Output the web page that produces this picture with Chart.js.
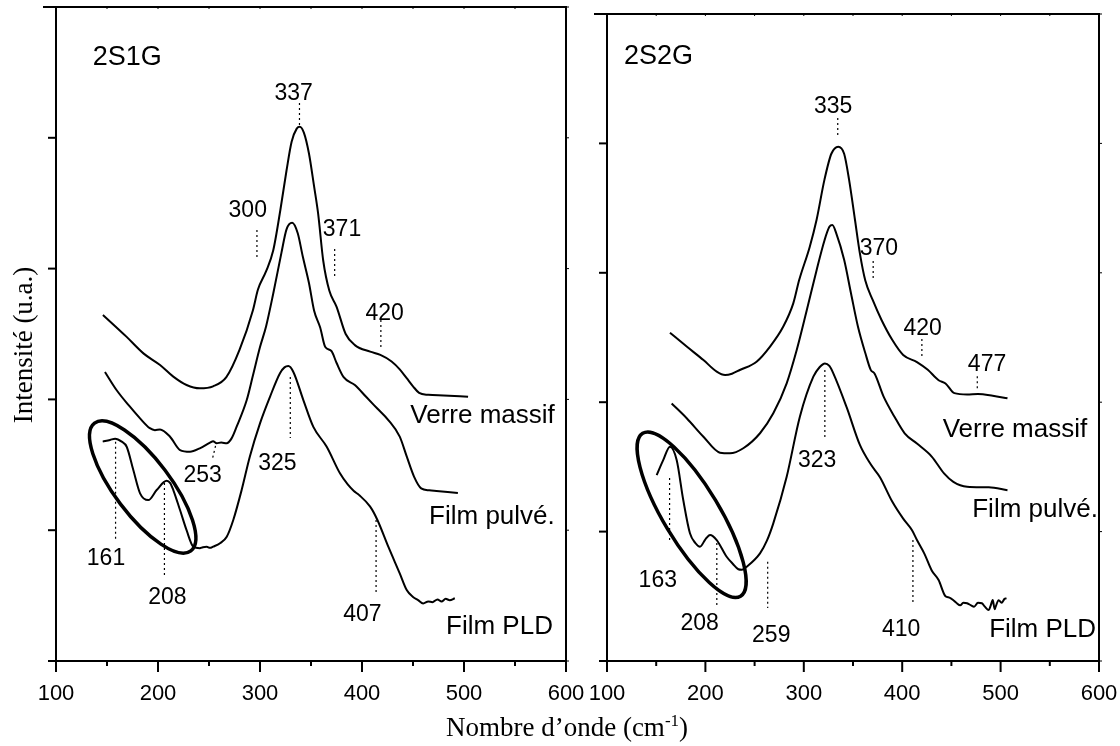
<!DOCTYPE html>
<html><head><meta charset="utf-8">
<script src="https://cdn.jsdelivr.net/npm/chart.js@4.4.1/dist/chart.umd.min.js"></script>
<style>
html,body{margin:0;padding:0;background:#fff;}
#wrap{position:relative;width:1120px;height:746px;overflow:hidden;background:#fff;}
#c1{position:absolute;left:0;top:0;}
#c2{position:absolute;left:560px;top:0;}
.xt{position:absolute;left:367px;width:400px;top:714px;text-align:center;font-family:"Liberation Serif",serif;font-size:27px;line-height:27px;white-space:nowrap;color:#000;}
.xt sup{font-size:17px;line-height:0;vertical-align:0.6em;}
.yt{position:absolute;left:-127px;top:330px;width:300px;height:30px;line-height:30px;text-align:center;font-family:"Liberation Serif",serif;font-size:27px;color:#000;transform:rotate(-90deg);transform-origin:50% 50%;white-space:nowrap;}
</style></head>
<body>
<div id="wrap">
<canvas id="c1" width="600" height="746"></canvas>
<canvas id="c2" width="560" height="746"></canvas>
<div class="yt">Intensité (u.a.)</div>
<div class="xt">Nombre d’onde (cm<sup>-1</sup>)</div>
</div>
<script>
// ---------- Data: panel 2S1G ----------
const L_VERRE_X = [146,158,169,186,202,215,228,241,254,267,280,293,298,306,313,320,326,331,336,339,343,348,353,357,362,368,375,384,393,408,418,429,437,444,450,456,465,480,504];
const L_VERRE_Y = [2.645,2.56,2.48,2.35,2.263,2.174,2.11,2.085,2.10,2.17,2.38,2.68,2.84,2.98,3.14,3.45,3.75,3.97,4.07,4.085,4.04,3.88,3.63,3.42,3.06,2.83,2.71,2.50,2.415,2.365,2.34,2.29,2.23,2.16,2.10,2.05,2.035,2.03,2.02];
const L_PULVE_X = [148,159.5,172.5,182.4,192,197,202,211.8,221.6,231.4,241,251,254,257.5,262,267.4,272,277,287,293,300,306,313,321,326,331.5,337,342,348,353,359,364,370,375,382,393,404,415,426,437,444,451,458,466,473,494];
const L_PULVE_Y = [2.21,2.07,1.944,1.855,1.78,1.765,1.77,1.715,1.613,1.60,1.626,1.669,1.68,1.665,1.67,1.665,1.70,1.79,1.995,2.18,2.40,2.56,2.81,3.12,3.30,3.35,3.27,3.09,2.89,2.68,2.55,2.40,2.37,2.28,2.17,2.11,2.02,1.93,1.84,1.715,1.56,1.41,1.32,1.305,1.30,1.285];
const L_PLD_X = [145.8,153,158,164.4,169.3,175.8,182.4,190.5,198.7,208.5,212,215,221.6,228,234.6,241,244,247.7,251,254,260.8,267.4,273.8,282,290,300,309.8,319.6,324,327.8,332.7,342.5,352.3,365.4,378.4,386,392,397,408,415,426,437,444,450,455,460,465,469,474,478,482,486,491];
const L_PLD_Y = [1.677,1.69,1.70,1.677,1.638,1.46,1.282,1.23,1.307,1.378,1.36,1.307,1.154,1.0,0.874,0.862,0.87,0.874,0.865,0.874,0.9,0.95,1.078,1.307,1.562,1.817,2.02,2.2,2.245,2.255,2.21,1.995,1.79,1.638,1.435,1.35,1.30,1.27,1.18,1.08,0.87,0.67,0.54,0.49,0.465,0.44,0.455,0.45,0.47,0.455,0.475,0.465,0.48];
const L_PEAK_TEXT = ['337','300','371','420','253','325','161','208','407'];
const L_PEAK_X = [333,288,380.4,422.2,243.7,317,149,209.2,400.4];
const L_PEAK_Y = [4.34,3.443,3.295,2.653,1.417,1.511,0.78,0.484,0.352];
const L_MARK_X0 = [338.7,297,373.2,418.5,256.4,329.7,158.4,206.3,413.8];
const L_MARK_Y0 = [4.266,3.295,3.15,2.607,1.644,2.171,1.677,1.361,1.078];
const L_MARK_X1 = [338.7,297,373.2,418.5,253.5,329.7,158.4,206.3,413.8];
const L_MARK_Y1 = [4.098,3.081,2.928,2.393,1.55,1.705,0.925,0.644,0.52];

// ---------- Data: panel 2S2G ----------
const R_VERRE_X = [164,181,198,211.5,220,227,235,252,265.7,279,289.3,295.3,306,313,321,328,335,341,346,352,357,362.5,370,379,390,401,415,426,437,444,453,466,477,492,507];
const R_VERRE_Y = [2.537,2.43,2.326,2.236,2.21,2.22,2.249,2.313,2.43,2.583,2.764,2.944,3.20,3.41,3.72,3.92,3.975,3.92,3.72,3.41,3.15,2.94,2.79,2.635,2.48,2.365,2.31,2.25,2.17,2.145,2.07,2.06,2.063,2.05,2.03];
const R_PULVE_X = [165.7,181,198,214.8,225,238.5,255.5,269,282.6,292.8,303,313,321,326,329,333,341,348,355,362.5,368,372,381,392,402.5,415,430,442.5,452,466,488,507];
const R_PULVE_Y = [1.99,1.876,1.733,1.61,1.605,1.644,1.76,1.914,2.146,2.403,2.71,3.02,3.25,3.355,3.37,3.305,3.10,2.84,2.585,2.38,2.25,2.22,2.045,1.89,1.76,1.68,1.58,1.45,1.385,1.347,1.342,1.32];
const R_PLD_X = [150.5,157,164,170.8,177.5,184.3,190,194.5,200,204.7,211.5,221.6,228,233.5,237,242,255.5,262.5,269,282.6,296,309.7,316,321.5,326,330,343.6,357,368,377.4,390,401,410,415,422.5,430,437,444,448,452,455,459,462,466,470,473,477,481,484,488,490,492,494,495,498,501,504,506];
const R_PLD_Y = [1.437,1.55,1.656,1.553,1.244,0.987,0.91,0.883,0.94,0.974,0.935,0.806,0.75,0.709,0.705,0.729,0.832,0.93,1.064,1.424,1.888,2.197,2.27,2.30,2.28,2.223,1.96,1.67,1.52,1.42,1.23,1.10,1.01,0.935,0.83,0.70,0.626,0.50,0.49,0.47,0.45,0.43,0.45,0.446,0.43,0.42,0.45,0.446,0.42,0.394,0.43,0.471,0.40,0.42,0.47,0.45,0.48,0.485];
const R_PEAK_TEXT = ['335','370','420','477','323','163','208','259','410'];
const R_PEAK_X = [329.8,376.3,420.7,486.2,313.5,151.6,194.2,266.9,398.9];
const R_PEAK_Y = [4.284,3.189,2.571,2.287,1.548,0.62,0.291,0.196,0.24];
const R_MARK_X0 = [334.5,370.5,420,476.3,321.4,163.6,211.6,263.3,410.9];
const R_MARK_Y0 = [4.196,3.091,2.488,2.2,2.249,1.414,0.912,0.767,0.935];
const R_MARK_X1 = [334.5,370.5,420,476.3,321.4,163.6,211.6,263.3,410.9];
const R_MARK_Y1 = [4.049,2.944,2.342,2.094,1.723,0.922,0.42,0.41,0.446];

// ---------- Labels ----------
const SAMPLE_NAMES = ['Verre massif','Film pulvé.','Film PLD'];
const L_SAMPLE_XR = [589,589,587.2];
const L_SAMPLE_Y = [1.875,1.103,0.262];
const R_SAMPLE_XR = [588,598.9,597];
const R_SAMPLE_Y = [1.79,1.167,0.24];
const PANEL_NAMES = ['2S1G','2S2G'];
const X_MIN = 100, X_MAX = 600, X_STEP = 50;
const Y_MIN = 0, Y_MAX = 5, Y_STEP = 1;

function zip(xs, ys){ return xs.map((x,i)=>({x:x, y:ys[i]})); }

function buildDatasets(series, mx0, my0, mx1, my1){
  const ds = series.map(s=>({data: zip(s[0], s[1]), borderColor:'#000', borderWidth:2, pointRadius:0, fill:false, cubicInterpolationMode:'monotone'}));
  mx0.forEach((_,i)=>{
    ds.push({data:[{x:mx0[i],y:my0[i]},{x:mx1[i],y:my1[i]}], borderColor:'#000', borderWidth:1.2, borderDash:[2,3], pointRadius:0, fill:false, tension:0});
  });
  return ds;
}

function decor(cfg){
  return {
    id:'decor',
    afterDatasetsDraw(chart){
      const ctx = chart.ctx, a = chart.chartArea, xs = chart.scales.x, ys = chart.scales.y;
      ctx.save();
      ctx.strokeStyle = '#000'; ctx.fillStyle = '#000';
      ctx.lineWidth = 3.5;
      ctx.beginPath();
      ctx.ellipse(xs.getPixelForValue(cfg.ell[0]), ys.getPixelForValue(cfg.ell[1]), cfg.ell[2], cfg.ell[3], cfg.ell[4]*Math.PI/180, 0, Math.PI*2);
      ctx.stroke();
      ctx.lineWidth = 2;
      ctx.strokeRect(a.left, a.top, a.right-a.left, a.bottom-a.top);
      const seg = (x0,y0,x1,y1)=>{ctx.beginPath();ctx.moveTo(x0,y0);ctx.lineTo(x1,y1);ctx.stroke();};
      ys.ticks.forEach(t=>{
        const py = ys.getPixelForValue(t.value);
        ctx.lineWidth = 2;
        seg(a.left - (t.value===Y_MAX?13:8), py, a.left, py);
        ctx.lineWidth = 1;
        seg(a.right, py, a.right+3, py);
      });
      xs.ticks.forEach(t=>{
        const px = xs.getPixelForValue(t.value);
        const major = t.value % 100 === 0;
        ctx.lineWidth = 2;
        seg(px, a.bottom, px, a.bottom + (major?11:5));
        ctx.lineWidth = 1;
        seg(px, a.top, px, a.top+2);
      });
      ctx.font = '27px "Liberation Sans", Arial, sans-serif';
      ctx.textAlign = 'left'; ctx.textBaseline = 'middle';
      ctx.fillText(cfg.title, xs.getPixelForValue(cfg.titlePos[0]), ys.getPixelForValue(cfg.titlePos[1]));
      ctx.font = '23px "Liberation Sans", Arial, sans-serif';
      ctx.textAlign = 'center';
      cfg.peakText.forEach((s,i)=>ctx.fillText(s, xs.getPixelForValue(cfg.peakX[i]), ys.getPixelForValue(cfg.peakY[i])));
      ctx.font = '26px "Liberation Sans", Arial, sans-serif';
      ctx.textAlign = 'right';
      SAMPLE_NAMES.forEach((s,i)=>ctx.fillText(s, xs.getPixelForValue(cfg.sampleXR[i]), ys.getPixelForValue(cfg.sampleY[i])));
      ctx.restore();
    }
  };
}

function makeChart(id, datasets, pad, cfg){
  return new Chart(document.getElementById(id), {
    type:'line',
    data:{datasets: datasets},
    options:{
      responsive:false, animation:false, devicePixelRatio:1,
      layout:{padding:pad},
      plugins:{legend:{display:false}, tooltip:{enabled:false}},
      scales:{
        x:{type:'linear', min:X_MIN, max:X_MAX,
           grid:{display:false, drawTicks:false}, border:{display:false},
           ticks:{stepSize:X_STEP, autoSkip:false, maxRotation:0, padding:20, color:'#000',
                  font:{family:'"Liberation Sans", Arial, sans-serif', size:22},
                  callback:(v)=> (v % 100 === 0 ? String(v) : '')},
           afterFit:(s)=>{ s.height = 85; s.paddingLeft = 0; s.paddingRight = 0; s.paddingTop = 0; s.paddingBottom = 0; }},
        y:{type:'linear', min:Y_MIN, max:Y_MAX,
           grid:{display:false, drawTicks:false}, border:{display:false},
           ticks:{stepSize:Y_STEP, display:false},
           afterFit:(s)=>{ s.width = 0; s.paddingTop = 0; s.paddingBottom = 0; s.paddingLeft = 0; s.paddingRight = 0; }}
      }
    },
    plugins:[decor(cfg)]
  });
}

makeChart('c1',
  buildDatasets([[L_VERRE_X,L_VERRE_Y],[L_PULVE_X,L_PULVE_Y],[L_PLD_X,L_PLD_Y]], L_MARK_X0, L_MARK_Y0, L_MARK_X1, L_MARK_Y1),
  {left:56, right:34, top:7, bottom:0},
  {title:PANEL_NAMES[0], titlePos:[136,4.614], peakText:L_PEAK_TEXT, peakX:L_PEAK_X, peakY:L_PEAK_Y,
   sampleXR:L_SAMPLE_XR, sampleY:L_SAMPLE_Y, ell:[185,1.33,80,28,53]});

makeChart('c2',
  buildDatasets([[R_VERRE_X,R_VERRE_Y],[R_PULVE_X,R_PULVE_Y],[R_PLD_X,R_PLD_Y]], R_MARK_X0, R_MARK_Y0, R_MARK_X1, R_MARK_Y1),
  {left:47, right:21, top:14, bottom:0},
  {title:PANEL_NAMES[1], titlePos:[117.3,4.67], peakText:R_PEAK_TEXT, peakX:R_PEAK_X, peakY:R_PEAK_Y,
   sampleXR:R_SAMPLE_XR, sampleY:R_SAMPLE_Y, ell:[186,1.13,95,28,59]});
</script>
</body></html>
